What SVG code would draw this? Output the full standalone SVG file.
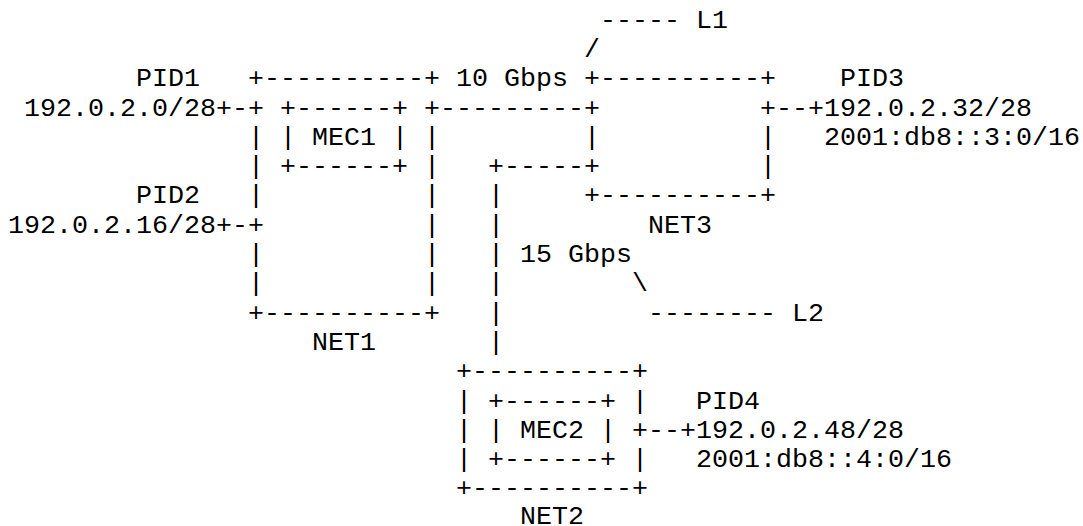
<svg xmlns="http://www.w3.org/2000/svg" width="1083" height="526" viewBox="0 0 1083 526">
<style>
text{font-family:"Liberation Mono","Courier New",monospace;font-size:26.67px;fill:#000;white-space:pre}
</style>
<rect x="0" y="0" width="1083" height="526" fill="#fff"/>
<g id="connectors">
<text x="216" y="115.5">+-</text>
<text x="216" y="232.7">+-</text>
<text x="776" y="115.5">--+</text>
<text x="648" y="437.8">--+</text>
<text x="440" y="115.5">---------</text>
<text x="488" y="174.1">+-----</text>
<text x="488" y="203.4">|</text>
<text x="488" y="232.7">|</text>
<text x="488" y="262.0">|</text>
<text x="488" y="291.3">|</text>
<text x="488" y="320.6">|</text>
<text x="488" y="349.9">|</text>
<text x="456" y="86.2" xml:space="preserve">10 Gbps</text>
<text x="584" y="56.9">/</text>
<text x="600" y="27.6" xml:space="preserve">----- L1</text>
<text x="520" y="262.0" xml:space="preserve">15 Gbps</text>
<text x="632" y="291.3">\</text>
<text x="648" y="320.6" xml:space="preserve">-------- L2</text>
</g>
<g id="net1">
<text x="248" y="86.2">+----------+</text>
<text x="248" y="115.5">+</text><text x="424" y="115.5">+</text>
<text x="248" y="144.8">|</text><text x="424" y="144.8">|</text>
<text x="248" y="174.1">|</text><text x="424" y="174.1">|</text>
<text x="248" y="203.4">|</text><text x="424" y="203.4">|</text>
<text x="248" y="232.7">+</text><text x="424" y="232.7">|</text>
<text x="248" y="262.0">|</text><text x="424" y="262.0">|</text>
<text x="248" y="291.3">|</text><text x="424" y="291.3">|</text>
<text x="248" y="320.6">+----------+</text>
<text x="312" y="349.9">NET1</text>
</g>
<g id="mec1">
<text x="280" y="115.5">+------+</text>
<text x="280" y="144.8">|</text><text x="312" y="144.8">MEC1</text><text x="392" y="144.8">|</text>
<text x="280" y="174.1">+------+</text>
</g>
<g id="net3">
<text x="584" y="86.2">+----------+</text>
<text x="584" y="115.5">+</text><text x="760" y="115.5">+</text>
<text x="584" y="144.8">|</text><text x="760" y="144.8">|</text>
<text x="584" y="174.1">+</text><text x="760" y="174.1">|</text>
<text x="584" y="203.4">+----------+</text>
<text x="648" y="232.7">NET3</text>
</g>
<g id="net2">
<text x="456" y="379.2">+----------+</text>
<text x="456" y="408.5">|</text><text x="632" y="408.5">|</text>
<text x="456" y="437.8">|</text><text x="632" y="437.8">+</text>
<text x="456" y="467.1">|</text><text x="632" y="467.1">|</text>
<text x="456" y="496.4">+----------+</text>
<text x="520" y="524">NET2</text>
</g>
<g id="mec2">
<text x="488" y="408.5">+------+</text>
<text x="488" y="437.8">|</text><text x="520" y="437.8">MEC2</text><text x="600" y="437.8">|</text>
<text x="488" y="467.1">+------+</text>
</g>
<g id="pid1">
<text x="136" y="86.2">PID1</text>
<text x="24" y="115.5">192.0.2.0/28</text>
</g>
<g id="pid2">
<text x="136" y="203.4">PID2</text>
<text x="8" y="232.7">192.0.2.16/28</text>
</g>
<g id="pid3">
<text x="840" y="86.2">PID3</text>
<text x="824" y="115.5">192.0.2.32/28</text>
<text x="824" y="144.8">2001:db8::3:0/16</text>
</g>
<g id="pid4">
<text x="696" y="408.5">PID4</text>
<text x="696" y="437.8">192.0.2.48/28</text>
<text x="696" y="467.1">2001:db8::4:0/16</text>
</g>
</svg>
